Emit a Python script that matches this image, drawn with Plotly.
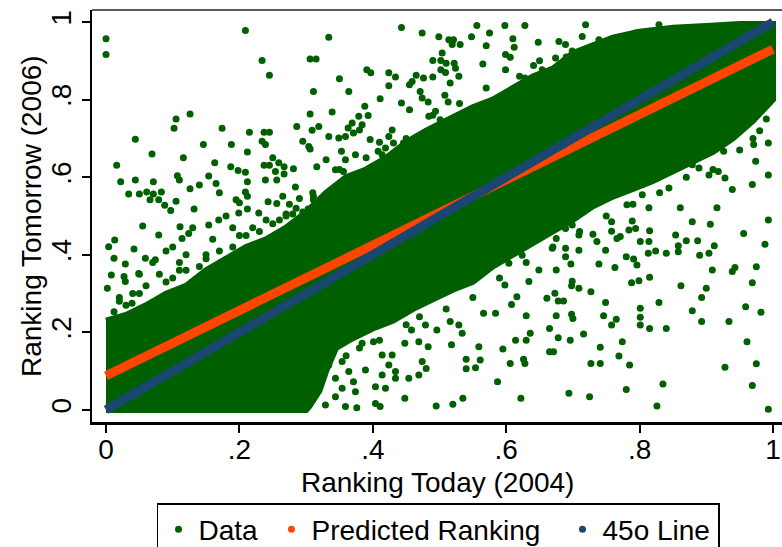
import plotly.graph_objects as go

# ---- data ----
# individual observations visible in the sparse part of the cloud (ranking 2004, ranking 2006)
data_x = [
    0.000, 0.000, 0.209, 0.234, 0.245, 0.306, 0.315, 0.311, 0.306, 0.126, 0.105, 0.102, 0.044, 0.069, 0.016,
    0.022, 0.044, 0.071, 0.034, 0.050, 0.061, 0.071, 0.083, 0.066, 0.079, 0.088, 0.097, 0.105, 0.116, 0.107,
    0.110, 0.126, 0.140, 0.154, 0.146, 0.163, 0.165, 0.170, 0.132, 0.174, 0.188, 0.187, 0.198, 0.209, 0.212,
    0.215, 0.212, 0.209, 0.212, 0.195, 0.200, 0.212, 0.237, 0.245, 0.234, 0.239, 0.250, 0.237, 0.245, 0.259,
    0.254, 0.267, 0.267, 0.256, 0.239, 0.281, 0.286, 0.295, 0.304, 0.306, 0.309, 0.319, 0.316, 0.284, 0.265,
    0.243, 0.256, 0.311, 0.311, 0.229, 0.199, 0.303, 0.275, 0.285, 0.290, 0.295, 0.280,
    0.334, 0.443, 0.474, 0.499, 0.514, 0.521, 0.519, 0.531, 0.548, 0.556, 0.575, 0.598, 0.628, 0.610, 0.612,
    0.570, 0.648, 0.599, 0.606, 0.565, 0.504, 0.490, 0.502, 0.510, 0.522, 0.502, 0.509, 0.524, 0.391, 0.397,
    0.350, 0.364, 0.339, 0.424, 0.434, 0.424, 0.411, 0.388, 0.443, 0.455, 0.459, 0.465, 0.476, 0.490, 0.471,
    0.474, 0.483, 0.508, 0.513, 0.516, 0.529, 0.455, 0.484, 0.494, 0.501, 0.379, 0.393, 0.384, 0.369, 0.363,
    0.371, 0.380, 0.334, 0.349, 0.359, 0.396, 0.429, 0.424, 0.431, 0.419, 0.446, 0.353, 0.359, 0.374, 0.330,
    0.408, 0.414, 0.459, 0.474, 0.486, 0.389, 0.373, 0.344, 0.356, 0.599, 0.641, 0.628, 0.654,
    0.719, 0.714, 0.679, 0.689, 0.674, 0.699, 0.739, 0.754, 0.794, 0.829, 0.993, 0.974, 0.993, 0.969, 0.939,
    0.914, 0.993, 0.996, 0.971, 0.926, 0.918, 0.928, 0.916, 0.861, 0.814, 0.889, 0.904, 0.866, 0.879, 0.834,
    0.844, 0.804, 0.804, 0.781, 0.884, 0.779,
    0.993, 0.956, 0.988, 0.975, 0.943, 0.939, 0.969, 0.982, 0.959, 0.934, 0.961, 0.975, 0.928, 0.969, 0.993,
    0.909, 0.900, 0.893, 0.879, 0.893, 0.906, 0.912, 0.904, 0.890, 0.887, 0.870, 0.879, 0.854, 0.858, 0.858,
    0.862, 0.840, 0.824, 0.813, 0.815, 0.829, 0.840, 0.815, 0.801, 0.801, 0.801, 0.799, 0.788, 0.801, 0.814,
    0.815, 0.780, 0.791, 0.796, 0.763, 0.739, 0.749, 0.746, 0.765, 0.758, 0.774, 0.769, 0.785, 0.741, 0.727,
    0.741, 0.716, 0.727, 0.696, 0.678, 0.671, 0.675, 0.698, 0.700, 0.678, 0.686, 0.673, 0.698, 0.709, 0.699,
    0.694, 0.725, 0.780, 0.835, 0.826, 0.675, 0.697, 0.784, 0.794, 0.771, 0.766, 0.789, 0.758, 0.758, 0.730,
    0.736, 0.749, 0.689, 0.699, 0.709, 0.689, 0.689, 0.709, 0.675, 0.669,
    0.622, 0.587, 0.535, 0.520, 0.495, 0.448, 0.540, 0.561, 0.540, 0.554, 0.595, 0.606, 0.626, 0.628, 0.614,
    0.630, 0.636, 0.665, 0.665, 0.559, 0.518, 0.480, 0.474, 0.469, 0.483, 0.448, 0.458, 0.479, 0.496, 0.516,
    0.529, 0.534, 0.566, 0.584, 0.608, 0.616, 0.598, 0.630, 0.661, 0.649, 0.634, 0.624, 0.604, 0.653, 0.579,
    0.424, 0.429, 0.434, 0.414, 0.419, 0.404, 0.389, 0.414, 0.434, 0.454, 0.469, 0.404, 0.411, 0.376, 0.359,
    0.329, 0.344, 0.401, 0.384, 0.354, 0.339, 0.329, 0.334, 0.354, 0.344, 0.364, 0.371, 0.354, 0.374,
    0.055, 0.013, 0.004, 0.042, 0.012, 0.029, 0.008, 0.002, 0.027, 0.029, 0.111, 0.124, 0.114, 0.079, 0.059,
    0.074, 0.049, 0.039, 0.012, 0.154, 0.169,
    0.020, 0.050, 0.090, 0.110, 0.150, 0.190, 0.210, 0.250, 0.270, 0.310, 0.350, 0.390, 0.410, 0.450, 0.490,
    0.530, 0.570, 0.620, 0.650, 0.690, 0.360, 0.380, 0.410, 0.450, 0.470, 0.510, 0.550, 0.590, 0.630, 0.670,
    0.710, 0.750, 0.790, 0.830, 0.870, 0.910, 0.950, 0.990, 0.980, 0.970,
    0.100, 0.120, 0.130, 0.110, 0.160, 0.170, 0.190, 0.180, 0.200, 0.220, 0.240, 0.230, 0.260, 0.270, 0.150,
    0.140, 0.060, 0.080, 0.040, 0.020, 0.100, 0.120, 0.050, 0.070, 0.090, 0.030,
]
data_y = [
    0.957, 0.916, 0.978, 0.901, 0.863, 0.905, 0.905, 0.821, 0.763, 0.763, 0.750, 0.726, 0.698, 0.660, 0.631,
    0.588, 0.593, 0.588, 0.557, 0.557, 0.562, 0.557, 0.562, 0.542, 0.542, 0.528, 0.514, 0.538, 0.650, 0.604,
    0.593, 0.570, 0.580, 0.603, 0.684, 0.637, 0.584, 0.560, 0.518, 0.726, 0.684, 0.627, 0.617, 0.613, 0.665,
    0.716, 0.588, 0.562, 0.551, 0.542, 0.534, 0.518, 0.716, 0.716, 0.693, 0.684, 0.650, 0.631, 0.631, 0.637,
    0.615, 0.627, 0.608, 0.593, 0.593, 0.622, 0.731, 0.693, 0.679, 0.673, 0.721, 0.731, 0.627, 0.575, 0.551,
    0.537, 0.532, 0.551, 0.542, 0.508, 0.508, 0.518, 0.530, 0.520, 0.545, 0.510, 0.505,
    0.961, 0.986, 0.972, 0.962, 0.954, 0.954, 0.942, 0.942, 0.962, 0.991, 0.972, 0.991, 0.991, 0.957, 0.935,
    0.939, 0.948, 0.916, 0.909, 0.892, 0.920, 0.901, 0.901, 0.894, 0.894, 0.877, 0.870, 0.881, 0.877, 0.869,
    0.854, 0.821, 0.768, 0.869, 0.858, 0.836, 0.802, 0.783, 0.791, 0.838, 0.847, 0.863, 0.856, 0.858, 0.821,
    0.804, 0.794, 0.811, 0.794, 0.843, 0.860, 0.774, 0.757, 0.770, 0.748, 0.757, 0.759, 0.735, 0.740, 0.727,
    0.714, 0.722, 0.705, 0.701, 0.705, 0.697, 0.722, 0.705, 0.688, 0.675, 0.688, 0.667, 0.645, 0.658, 0.645,
    0.667, 0.658, 0.671, 0.667, 0.667, 0.615, 0.594, 0.619, 0.615, 0.877, 0.888, 0.856, 0.877,
    0.993, 0.963, 0.950, 0.942, 0.907, 0.925, 0.954, 0.950, 0.972, 0.993, 0.688, 0.641, 0.606, 0.581, 0.568,
    0.710, 0.830, 0.881, 0.684, 0.667, 0.615, 0.598, 0.521, 0.521, 0.521, 0.624, 0.606, 0.641, 0.632, 0.606,
    0.572, 0.581, 0.555, 0.529, 0.667, 0.602,
    0.490, 0.455, 0.427, 0.369, 0.367, 0.357, 0.328, 0.252, 0.266, 0.228, 0.176, 0.119, 0.110, 0.063, 0.002,
    0.361, 0.314, 0.290, 0.256, 0.228, 0.479, 0.423, 0.404, 0.399, 0.436, 0.436, 0.485, 0.451, 0.423, 0.408,
    0.320, 0.404, 0.410, 0.404, 0.342, 0.277, 0.210, 0.210, 0.262, 0.239, 0.219, 0.333, 0.328, 0.434, 0.434,
    0.462, 0.395, 0.389, 0.374, 0.367, 0.376, 0.277, 0.243, 0.234, 0.219, 0.176, 0.139, 0.116, 0.162, 0.120,
    0.120, 0.196, 0.305, 0.180, 0.186, 0.150, 0.243, 0.247, 0.236, 0.281, 0.281, 0.301, 0.320, 0.314, 0.332,
    0.043, 0.034, 0.053, 0.067, 0.010, 0.361, 0.376, 0.464, 0.468, 0.447, 0.442, 0.487, 0.485, 0.461, 0.453,
    0.434, 0.412, 0.468, 0.477, 0.451, 0.417, 0.395, 0.412, 0.442, 0.417,
    0.030, 0.073, 0.030, 0.015, 0.010, 0.030, 0.131, 0.129, 0.106, 0.109, 0.157, 0.120, 0.131, 0.120, 0.180,
    0.180, 0.198, 0.150, 0.210, 0.163, 0.168, 0.107, 0.125, 0.176, 0.163, 0.172, 0.206, 0.219, 0.206, 0.228,
    0.219, 0.198, 0.249, 0.249, 0.272, 0.292, 0.322, 0.243, 0.288, 0.361, 0.331, 0.399, 0.378, 0.468, 0.468,
    0.116, 0.142, 0.099, 0.142, 0.056, 0.060, 0.103, 0.090, 0.082, 0.082, 0.090, 0.017, 0.009, 0.006, 0.009,
    0.013, 0.034, 0.176, 0.172, 0.176, 0.159, 0.159, 0.116, 0.125, 0.082, 0.099, 0.073, 0.056, 0.047,
    0.474, 0.438, 0.421, 0.415, 0.391, 0.376, 0.348, 0.314, 0.344, 0.331, 0.472, 0.455, 0.442, 0.451, 0.391,
    0.387, 0.352, 0.275, 0.253, 0.477, 0.490,
    0.290, 0.300, 0.330, 0.360, 0.390, 0.420, 0.450, 0.480, 0.500, 0.560, 0.620, 0.650, 0.690, 0.700, 0.760,
    0.790, 0.830, 0.860, 0.900, 0.910, 0.140, 0.160, 0.180, 0.220, 0.240, 0.260, 0.290, 0.340, 0.380, 0.420,
    0.460, 0.500, 0.530, 0.560, 0.600, 0.620, 0.670, 0.750, 0.720, 0.700,
    0.420, 0.400, 0.470, 0.380, 0.440, 0.410, 0.470, 0.500, 0.450, 0.470, 0.490, 0.460, 0.490, 0.505, 0.400,
    0.370, 0.320, 0.350, 0.300, 0.280, 0.340, 0.360, 0.350, 0.380, 0.410, 0.270,
]

# outline of the core of the cloud, where thousands of observations merge into solid colour
dense_x = [0.00, 0.03, 0.06, 0.09, 0.12, 0.15, 0.18, 0.21, 0.24, 0.27, 0.30, 0.33, 0.36, 0.39, 0.42, 0.45,
           0.48, 0.51, 0.55, 0.58, 0.61, 0.64, 0.67, 0.70, 0.73, 0.76, 0.80, 0.85, 0.90, 0.95, 1.00,
           1.00, 0.97, 0.94, 0.91, 0.88, 0.85, 0.82, 0.79, 0.76, 0.73, 0.70, 0.67, 0.64, 0.61, 0.58, 0.55,
           0.52, 0.49, 0.46, 0.43, 0.40, 0.37, 0.345, 0.33, 0.32, 0.305, 0.30, 0.00]
dense_y = [0.23, 0.245, 0.27, 0.30, 0.32, 0.36, 0.39, 0.42, 0.44, 0.47, 0.51, 0.56, 0.60, 0.62, 0.65, 0.69,
           0.72, 0.745, 0.78, 0.80, 0.83, 0.86, 0.88, 0.92, 0.94, 0.96, 0.975, 0.985, 0.99, 0.995, 0.995,
           0.80, 0.745, 0.70, 0.665, 0.64, 0.615, 0.59, 0.57, 0.55, 0.525, 0.49, 0.46, 0.43, 0.40, 0.37, 0.33,
           0.31, 0.285, 0.26, 0.23, 0.21, 0.185, 0.16, 0.10, 0.05, 0.01, 0.00, 0.00]

# fitted values and 45-degree reference line
pred_x = [0.0, 1.0]
pred_y = [0.088, 0.930]
line45_x = [0.0, 1.0]
line45_y = [0.0, 1.0]

tick_vals = [0, 0.2, 0.4, 0.6, 0.8, 1.0]
tick_text = ["0", ".2", ".4", ".6", ".8", "1"]

GREEN = "#006000"
ORANGE = "#ff4500"
NAVY = "#1a476f"
FONT = "Liberation Sans, Arial, sans-serif"

fig = go.Figure()

fig.add_trace(go.Scatter(x=dense_x, y=dense_y, mode="lines", fill="toself", fillcolor=GREEN,
                         line=dict(color=GREEN, width=6), showlegend=False, hoverinfo="skip"))
fig.add_trace(go.Scatter(x=data_x, y=data_y, mode="markers", name="Data",
                         marker=dict(color=GREEN, size=7, line=dict(width=0)),
                         legendrank=1, legendwidth=68))
fig.add_trace(go.Scatter(x=pred_x, y=pred_y, mode="lines", line=dict(color=ORANGE, width=9),
                         showlegend=False, hoverinfo="skip"))
fig.add_trace(go.Scatter(x=line45_x, y=line45_y, mode="lines", line=dict(color=NAVY, width=9),
                         showlegend=False, hoverinfo="skip"))
# legend entries (markers, as in the original)
fig.add_trace(go.Scatter(x=[None], y=[None], mode="markers", name="Predicted Ranking",
                         marker=dict(color=ORANGE, size=7), legendrank=2, legendwidth=246))
fig.add_trace(go.Scatter(x=[None], y=[None], mode="markers", name="45o Line",
                         marker=dict(color=NAVY, size=7), legendrank=3, legendwidth=111))

axis_common = dict(
    tickvals=tick_vals, ticktext=tick_text, ticks="outside", ticklen=8, tickwidth=2,
    tickcolor="black", showline=True, linecolor="black", showgrid=False, zeroline=False,
    tickfont=dict(size=28, color="black", family=FONT), automargin=False,
    ticklabeloverflow="allow",
)

title_font = dict(size=28, color="black", family=FONT)

fig.update_layout(
    width=782, height=547,
    margin=dict(l=92, r=0, t=10, b=125, pad=0, autoexpand=False),
    paper_bgcolor="white", plot_bgcolor="white",
    font=dict(family=FONT, size=28, color="black"),
    xaxis=dict(range=[-0.021, 1.0135], linewidth=2.5, ticklabelstandoff=-7, **axis_common),
    yaxis=dict(range=[-0.031, 1.031], linewidth=2, tickangle=-90, **axis_common),
    annotations=[
        dict(text="Ranking Tomorrow (2006)", textangle=-90, xref="paper", yref="paper",
             x=-0.0884, y=0.5, xanchor="center", yanchor="middle", showarrow=False, font=title_font),
        dict(text="Ranking Today (2004)", xref="paper", yref="paper",
             x=0.5, y=-0.147, xanchor="center", yanchor="middle", showarrow=False, font=title_font),
    ],
    legend=dict(orientation="h", x=0.0942, xanchor="left", y=-0.197, yanchor="top",
                bordercolor="black", borderwidth=1.5, bgcolor="white",
                font=dict(size=28, color="black", family=FONT), traceorder="normal"),
    shapes=[dict(type="line", xref="paper", yref="paper", x0=0, x1=1, y0=1, y1=1,
                 line=dict(color="#5a5a5a", width=2))],
    showlegend=True,
)

fig.write_html("out.html", config={"displayModeBar": False},
               post_script="document.body.style.margin='0';")
